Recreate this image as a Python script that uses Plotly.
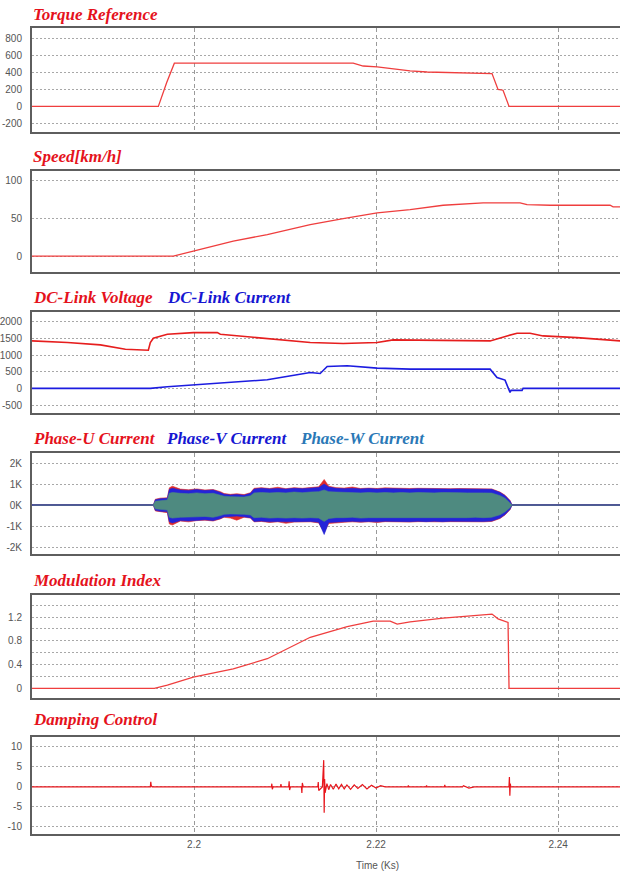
import plotly.graph_objects as go

# ---------------- data (time in Ks) ----------------
torque_t = [2.1822, 2.19608, 2.1970, 2.19784, 2.21749, 2.21858, 2.22012, 2.22188, 2.22374,
            2.22561, 2.2289, 2.23274, 2.2334, 2.23395, 2.23461, 2.2468]
torque_v = [0, 0, 280, 507, 507, 474, 463, 443, 416, 404, 392, 385, 200, 190, 0, 0]

speed_t = [2.1822, 2.19773, 2.19992, 2.20431, 2.20805, 2.21277, 2.21639, 2.22012, 2.22374,
           2.22737, 2.23176, 2.23582, 2.23659, 2.23912, 2.24571, 2.24604, 2.2468]
speed_v = [1, 1, 7.4, 20.6, 29.3, 42.4, 50.4, 57.9, 62.2, 67.9, 71, 71, 68.8, 67.9, 67.9, 65.8, 65.8]

vdc_t = [2.1822, 2.18609, 2.18971, 2.19246, 2.19498, 2.1952, 2.19553, 2.19707, 2.19992, 2.20256,
         2.20289, 2.20805, 2.21277, 2.21639, 2.22012, 2.22188, 2.22561, 2.23253, 2.23439, 2.23549,
         2.23692, 2.23835, 2.24208, 2.24681]
vdc_v = [1430, 1380, 1310, 1180, 1150, 1380, 1510, 1630, 1680, 1680, 1630, 1510, 1380, 1350,
         1380, 1460, 1450, 1430, 1580, 1660, 1660, 1580, 1530, 1430]

idc_t = [2.1822, 2.1952, 2.19707, 2.19992, 2.20431, 2.20805, 2.21277, 2.21386, 2.21463, 2.21683,
         2.22012, 2.22374, 2.23253, 2.23329, 2.23417, 2.23472, 2.23483, 2.23604, 2.23615, 2.2468]
idc_v = [0, 0, 50, 110, 180, 260, 480, 450, 660, 680, 610, 580, 580, 330, 250, -120, -60, -60, 0, 0]

phase_t = [2.18225, 2.19553, 2.19575, 2.1963, 2.19707, 2.19729, 2.19762, 2.1985, 2.1994, 2.2003,
           2.2012, 2.2021, 2.2029, 2.2033, 2.2040, 2.2047, 2.2055, 2.2062, 2.2066, 2.2074,
           2.2083, 2.2092, 2.2101, 2.2110, 2.2119, 2.2128, 2.2137, 2.2143, 2.2148, 2.2156,
           2.2165, 2.2174, 2.2183, 2.2192, 2.2201, 2.2210, 2.2219, 2.2228, 2.2237, 2.2246,
           2.2255, 2.2264, 2.2273, 2.2282, 2.2291, 2.2300, 2.2309, 2.2318, 2.2327, 2.23362,
           2.23417, 2.23472, 2.23494, 2.24681]
phase_v_hi = [0, 0, 250, 300, 320, 750, 800, 720, 700, 740,
              690, 720, 600, 520, 480, 500, 470, 560, 760, 800,
              770, 790, 760, 800, 780, 810, 840, 1000, 860, 800,
              780, 800, 770, 790, 760, 790, 770, 780, 760, 780,
              770, 760, 780, 760, 770, 760, 770, 760, 750, 600,
              450, 200, 0, 0]
phase_v_lo = [0, 0, -250, -300, -320, -800, -850, -740, -760, -720,
              -700, -740, -640, -560, -540, -520, -560, -600, -780, -760,
              -800, -780, -800, -790, -800, -780, -820, -1400, -830, -800,
              -790, -770, -800, -780, -800, -770, -790, -780, -790, -770,
              -790, -770, -790, -770, -780, -790, -770, -780, -760, -620,
              -450, -200, 0, 0]
phase_u_hi = [0, 0, 280, 330, 350, 820, 900, 760, 730, 770,
              720, 740, 640, 550, 510, 540, 500, 590, 800, 830,
              790, 850, 780, 830, 800, 840, 870, 1220, 900, 830,
              810, 860, 790, 810, 790, 820, 800, 800, 790, 800,
              790, 780, 800, 780, 790, 780, 790, 780, 770, 620,
              470, 220, 0, 0]
phase_u_lo = [0, 0, -280, -320, -360, -900, -950, -760, -800, -740,
              -720, -760, -660, -580, -620, -720, -580, -620, -800, -780,
              -830, -800, -870, -810, -820, -800, -850, -1300, -880, -840,
              -820, -800, -820, -800, -830, -790, -810, -800, -810, -790,
              -800, -790, -800, -790, -800, -810, -790, -800, -780, -640,
              -470, -220, 0, 0]
phase_w_hi = [0, 0, 180, 220, 240, 560, 600, 560, 540, 580,
              540, 560, 480, 420, 400, 400, 380, 440, 580, 600,
              580, 600, 580, 620, 590, 620, 640, 720, 640, 620,
              600, 600, 580, 600, 580, 600, 580, 600, 580, 600,
              580, 580, 600, 580, 590, 580, 590, 580, 570, 450,
              320, 120, 0, 0]
phase_w_lo = [0, 0, -180, -220, -240, -580, -620, -580, -560, -560,
              -540, -580, -500, -440, -420, -420, -440, -470, -600, -580,
              -620, -600, -620, -600, -620, -600, -620, -780, -640, -600,
              -600, -580, -620, -600, -600, -580, -600, -600, -600, -580,
              -600, -590, -600, -580, -600, -600, -580, -600, -580, -460,
              -320, -120, 0, 0]
phase_base_t = [2.1822, 2.2468]
phase_base_v = [0, 0]

mod_t = [2.1822, 2.19564, 2.19707, 2.19992, 2.20431, 2.20805, 2.21277, 2.21683, 2.21968, 2.22155,
         2.22232, 2.22374, 2.22737, 2.2311, 2.23274, 2.2334, 2.2345, 2.23461, 2.2468]
mod_v = [0, 0, 0.055, 0.19, 0.33, 0.5, 0.86, 1.04, 1.13, 1.13, 1.08, 1.12, 1.18, 1.22, 1.25, 1.17,
         1.11, 0, 0]

damp_t = [2.1822, 2.1952, 2.19525, 2.1953, 2.1954, 2.2085, 2.20855, 2.2086, 2.2087, 2.2095, 2.20955,
          2.2096, 2.2104, 2.21045, 2.2105, 2.2106, 2.2118, 2.21185, 2.2119, 2.212, 2.2136, 2.21365,
          2.2137, 2.2141, 2.21425, 2.2143, 2.21435, 2.2144, 2.2146, 2.2148, 2.215, 2.2153, 2.2156,
          2.2159, 2.2162, 2.2165, 2.2168, 2.2172, 2.2176, 2.218, 2.2185, 2.219, 2.2195, 2.22, 2.2205,
          2.221, 2.2235, 2.22355, 2.2236, 2.2255, 2.22555, 2.2256, 2.2275, 2.22755, 2.2276, 2.2295,
          2.2296, 2.2302, 2.2308, 2.2346, 2.23465, 2.2347, 2.23475, 2.2348, 2.2468]
damp_v = [0, 0, 1.3, 0.3, 0, 0, 0.8, -0.6, 0, 0, 0.7, 0, 0, 1.4, -0.8, 0, 0, -1.5, 1.0, 0, 0, 1.2,
          -0.9, 0, 6.7, -6.5, 2.0, -1.5, 0.8, -0.7, 0.6, -0.6, 0.7, -0.5, 0.6, -0.5, 0.5, -0.6, 0.5,
          -0.4, 0.6, -0.5, 0.4, -0.3, 0.3, 0, 0, 0.4, 0, 0, 0.4, 0, 0, 0.5, 0, 0, 0.3, -0.3, 0, 0, 2.5,
          -2.2, 0.8, 0, 0]

x_ticks = [2.2, 2.22, 2.24]
x_ticktext = ["2.2", "2.22", "2.24"]

torque_ticks = [800, 600, 400, 200, 0, -200]
speed_ticks = [100, 50, 0]
dc_ticks = [2000, 1500, 1000, 500, 0, -500]
phase_ticks = [2000, 1000, 0, -1000, -2000]
phase_ticktext = ["2K", "1K", "0K", "-1K", "-2K"]
mod_ticks = [0, 0.2, 0.4, 0.6, 0.8, 1.0, 1.2, 1.4]
mod_ticktext = ["0", "", "0.4", "", "0.8", "", "1.2", ""]
damp_ticks = [10, 5, 0, -5, -10]

# ---------------- styling ----------------
W, H = 620, 876
L = 32
RED_T = "#e5121c"
BLUE_T = "#1616d2"
TEAL_T = "#2a78b6"
LINE_RED = "#ef3e3e"

panels = [(28, 132), (171, 272), (312, 413), (453, 554), (595, 698), (737, 834)]
yranges = [[-300, 920], [-20, 113], [-740, 2300], [-2330, 2480], [-0.16, 1.57], [-11.8, 12.5]]
yticks = [(torque_ticks, [str(v) for v in torque_ticks]),
          (speed_ticks, [str(v) for v in speed_ticks]),
          (dc_ticks, [str(v) for v in dc_ticks]),
          (phase_ticks, phase_ticktext),
          (mod_ticks, mod_ticktext),
          (damp_ticks, [str(v) for v in damp_ticks])]

fig = go.Figure()

def add_line(t, v, i, color, width=1.3):
    fig.add_trace(go.Scatter(x=t, y=v, mode="lines", line=dict(color=color, width=width),
                             xaxis="x" if i == 1 else f"x{i}", yaxis="y" if i == 1 else f"y{i}",
                             showlegend=False, hoverinfo="skip"))

def add_band(t, hi, lo, i, color):
    fig.add_trace(go.Scatter(x=list(t) + list(t[::-1]), y=list(hi) + list(lo[::-1]),
                             mode="lines", fill="toself", fillcolor=color,
                             line=dict(color=color, width=0.6),
                             xaxis=f"x{i}", yaxis=f"y{i}", showlegend=False, hoverinfo="skip"))

add_line(torque_t, torque_v, 1, LINE_RED)
add_line(speed_t, speed_v, 2, LINE_RED)
add_line(vdc_t, vdc_v, 3, "#e61e1e", 1.6)
add_line(idc_t, idc_v, 3, "#1c1ce0", 1.6)
add_line(phase_base_t, phase_base_v, 4, "#2c4fd0", 2)
add_band(phase_t, phase_u_hi, phase_u_lo, 4, "#e02a2a")
add_band(phase_t, phase_v_hi, phase_v_lo, 4, "#2424d8")
add_band(phase_t, phase_w_hi, phase_w_lo, 4, "#4e8a80")
add_line(mod_t, mod_v, 5, LINE_RED)
add_line(damp_t, damp_v, 6, "#e8161c", 1.2)

layout = dict(width=W, height=H, margin=dict(l=L, r=0, t=0, b=0),
              paper_bgcolor="white", plot_bgcolor="white", showlegend=False,
              font=dict(family="Liberation Sans, Arial", size=10, color="#555555"))

for i, ((top, bot), yr, (tv, tt)) in enumerate(zip(panels, yranges, yticks), start=1):
    xk = "xaxis" if i == 1 else f"xaxis{i}"
    yk = "yaxis" if i == 1 else f"yaxis{i}"
    layout[xk] = dict(domain=[0, 1], anchor="y" if i == 1 else f"y{i}",
                      range=[2.1822, 2.2468], tickvals=x_ticks, ticktext=x_ticktext,
                      showticklabels=(i == 6), ticks="",
                      showgrid=True, gridcolor="#9a9a9a", griddash="4px,3px", gridwidth=1,
                      showline=True, linecolor="#5e5e5e", linewidth=2, mirror=True,
                      zeroline=False, tickfont=dict(size=10, color="#555555"))
    if i != 1:
        layout[xk]["matches"] = "x"
    layout[yk] = dict(domain=[1 - bot / H, 1 - top / H], anchor="x" if i == 1 else f"x{i}",
                      range=yr, tickvals=tv, ticktext=tt, ticks="",
                      showgrid=True, gridcolor="#a8a8a8", griddash="1.5px,2.5px", gridwidth=1.2,
                      showline=True, linecolor="#5e5e5e", linewidth=2,
                      zeroline=False, ticklabelstandoff=6,
                      tickfont=dict(size=10, color="#555555"))

def px_x(p):
    return (p - L) / (W - L)

def px_y(p):
    return 1 - p / H

titles = [
    ("Torque Reference", 31, 15, RED_T),
    ("Speed[km/h]", 31, 156, RED_T),
    ("DC-Link Voltage", 31, 298, RED_T),
    ("DC-Link Current", 165, 298, BLUE_T),
    ("Phase-U Current", 31, 438, RED_T),
    ("Phase-V Current", 164, 438, BLUE_T),
    ("Phase-W Current", 298, 438, TEAL_T),
    ("Modulation Index", 31, 580, RED_T),
    ("Damping Control", 31, 719, RED_T),
]
annotations = []
for text, x, y, c in titles:
    annotations.append(dict(text=f"<b><i>{text}</i></b>", x=px_x(x), y=px_y(y),
                            xref="paper", yref="paper", xanchor="left", yanchor="middle",
                            showarrow=False,
                            font=dict(family="Liberation Serif, Times New Roman", size=17, color=c)))
annotations.append(dict(text="Time (Ks)", x=px_x(377), y=px_y(865), xref="paper", yref="paper",
                        xanchor="center", yanchor="middle", showarrow=False,
                        font=dict(size=10, color="#555555")))
layout["annotations"] = annotations

fig.update_layout(**layout)
fig.write_html("out.html")
